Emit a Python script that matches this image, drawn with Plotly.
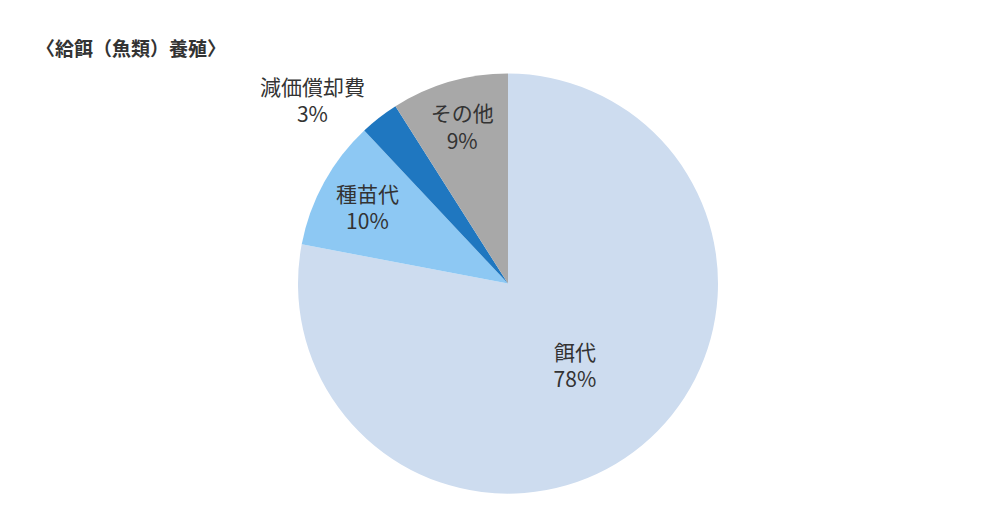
import plotly.graph_objects as go

labels = ["餌代", "種苗代", "減価償却費", "その他"]
values = [78, 10, 3, 9]
colors = ["#cddcef", "#8dc8f3", "#1f77c0", "#a8a8a8"]
positions = ["inside", "inside", "outside", "inside"]

fig = go.Figure()

fig.add_trace(go.Pie(
    labels=labels,
    values=values,
    sort=False,
    direction="clockwise",
    rotation=0,
    marker=dict(colors=colors, line=dict(width=0)),
    texttemplate="%{label}<br>%{value}%",
    textposition=positions,
    textfont=dict(family="Noto Sans CJK JP", size=21, color="#333333"),
    insidetextorientation="horizontal",
    domain=dict(x=[0.290, 0.710], y=[0.072, 0.876]),
    showlegend=False,
    hoverinfo="label+percent",
))

fig.update_layout(
    width=1000,
    height=524,
    margin=dict(l=0, r=0, t=0, b=0),
    paper_bgcolor="white",
    plot_bgcolor="white",
    font=dict(family="Noto Sans CJK JP", color="#333333"),
    title=dict(
        text="<b>〈給餌（魚類）養殖〉</b>",
        x=0.028, xanchor="left",
        y=0.922, yanchor="middle",
        font=dict(family="Noto Sans CJK JP", size=19, color="#333333"),
    ),
)

fig.write_html("out.html")
